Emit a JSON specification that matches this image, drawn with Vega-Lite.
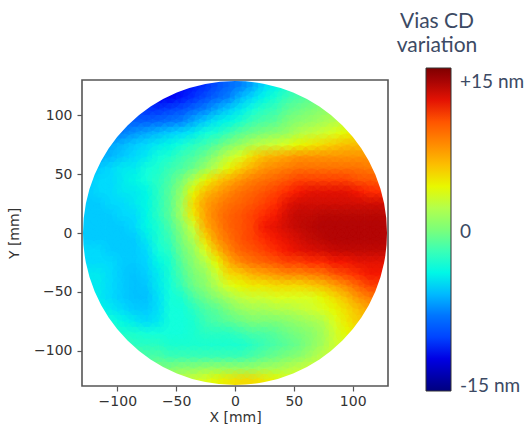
{"$schema":"https://vega.github.io/schema/vega-lite/v6.json","width":306,"height":306,"autosize":"none","padding":{"left":82,"top":80,"right":141,"bottom":41},"background":"white",
"title":{"text":["Vias CD","variation"],"anchor":"start","frame":"group","align":"center","dx":355,"dy":-8,"font":"Lato","fontSize":21,"fontWeight":"normal","color":"#3c4a64","lineHeight":24},
"config":{"view":{"stroke":null}},
"datasets":{"cells":[
{"x":-55,"y":125,"v":-12},{"x":-45,"y":125,"v":-11.5},{"x":-35,"y":125,"v":-11},{"x":-25,"y":125,"v":-10.5},{"x":-15,"y":125,"v":-9.5},{"x":-5,"y":125,"v":-8.5},{"x":5,"y":125,"v":-7.5},{"x":15,"y":125,"v":-6.5},{"x":25,"y":125,"v":-5},{"x":35,"y":125,"v":-4},{"x":45,"y":125,"v":-3},{"x":55,"y":125,"v":-2},
{"x":-65,"y":115,"v":-11.5},{"x":-55,"y":115,"v":-11.5},{"x":-45,"y":115,"v":-11},{"x":-35,"y":115,"v":-10.5},{"x":-25,"y":115,"v":-9.5},{"x":-15,"y":115,"v":-8.5},{"x":-5,"y":115,"v":-7.5},{"x":5,"y":115,"v":-6},{"x":15,"y":115,"v":-5},{"x":25,"y":115,"v":-4},{"x":35,"y":115,"v":-3},{"x":45,"y":115,"v":-2},{"x":55,"y":115,"v":-1.5},{"x":65,"y":115,"v":-1},
{"x":-85,"y":105,"v":-10},{"x":-75,"y":105,"v":-10.5},{"x":-65,"y":105,"v":-10.5},{"x":-55,"y":105,"v":-10},{"x":-45,"y":105,"v":-9.5},{"x":-35,"y":105,"v":-8.5},{"x":-25,"y":105,"v":-7.5},{"x":-15,"y":105,"v":-6.5},{"x":-5,"y":105,"v":-5.5},{"x":5,"y":105,"v":-4.5},{"x":15,"y":105,"v":-3.5},{"x":25,"y":105,"v":-2.5},{"x":35,"y":105,"v":-2},{"x":45,"y":105,"v":-1},{"x":55,"y":105,"v":-0.5},{"x":65,"y":105,"v":0},{"x":75,"y":105,"v":0.5},{"x":85,"y":105,"v":1},
{"x":-95,"y":95,"v":-9},{"x":-85,"y":95,"v":-9},{"x":-75,"y":95,"v":-9},{"x":-65,"y":95,"v":-8.5},{"x":-55,"y":95,"v":-8},{"x":-45,"y":95,"v":-7.5},{"x":-35,"y":95,"v":-6.5},{"x":-25,"y":95,"v":-5.5},{"x":-15,"y":95,"v":-4.5},{"x":-5,"y":95,"v":-4},{"x":5,"y":95,"v":-3},{"x":15,"y":95,"v":-2},{"x":25,"y":95,"v":-1.5},{"x":35,"y":95,"v":-1},{"x":45,"y":95,"v":0},{"x":55,"y":95,"v":0.5},{"x":65,"y":95,"v":1},{"x":75,"y":95,"v":1.5},{"x":85,"y":95,"v":2},{"x":95,"y":95,"v":2.5},
{"x":-105,"y":85,"v":-8},{"x":-95,"y":85,"v":-7.5},{"x":-85,"y":85,"v":-7},{"x":-75,"y":85,"v":-6.5},{"x":-65,"y":85,"v":-6},{"x":-55,"y":85,"v":-5.5},{"x":-45,"y":85,"v":-5},{"x":-35,"y":85,"v":-4.5},{"x":-25,"y":85,"v":-3.5},{"x":-15,"y":85,"v":-3},{"x":-5,"y":85,"v":-2},{"x":5,"y":85,"v":-1},{"x":15,"y":85,"v":-0.5},{"x":25,"y":85,"v":0},{"x":35,"y":85,"v":0.5},{"x":45,"y":85,"v":1},{"x":55,"y":85,"v":2},{"x":65,"y":85,"v":2.5},{"x":75,"y":85,"v":3},{"x":85,"y":85,"v":3.5},{"x":95,"y":85,"v":4},{"x":105,"y":85,"v":4.5},
{"x":-115,"y":75,"v":-7},{"x":-105,"y":75,"v":-6.5},{"x":-95,"y":75,"v":-6},{"x":-85,"y":75,"v":-5.5},{"x":-75,"y":75,"v":-5},{"x":-65,"y":75,"v":-4.5},{"x":-55,"y":75,"v":-4},{"x":-45,"y":75,"v":-3.5},{"x":-35,"y":75,"v":-2.5},{"x":-25,"y":75,"v":-2},{"x":-15,"y":75,"v":-1},{"x":-5,"y":75,"v":0},{"x":5,"y":75,"v":1},{"x":15,"y":75,"v":2},{"x":25,"y":75,"v":2.5},{"x":35,"y":75,"v":3},{"x":45,"y":75,"v":3.5},{"x":55,"y":75,"v":4},{"x":65,"y":75,"v":4.5},{"x":75,"y":75,"v":5},{"x":85,"y":75,"v":5.5},{"x":95,"y":75,"v":6},{"x":105,"y":75,"v":6},{"x":115,"y":75,"v":6},
{"x":-115,"y":65,"v":-6.5},{"x":-105,"y":65,"v":-6},{"x":-95,"y":65,"v":-5.5},{"x":-85,"y":65,"v":-5},{"x":-75,"y":65,"v":-4.5},{"x":-65,"y":65,"v":-3.5},{"x":-55,"y":65,"v":-3},{"x":-45,"y":65,"v":-2},{"x":-35,"y":65,"v":-1.5},{"x":-25,"y":65,"v":-0.5},{"x":-15,"y":65,"v":1},{"x":-5,"y":65,"v":2.5},{"x":5,"y":65,"v":3.5},{"x":15,"y":65,"v":5},{"x":25,"y":65,"v":6},{"x":35,"y":65,"v":6.5},{"x":45,"y":65,"v":7},{"x":55,"y":65,"v":7.5},{"x":65,"y":65,"v":7.5},{"x":75,"y":65,"v":7.5},{"x":85,"y":65,"v":7.5},{"x":95,"y":65,"v":7.5},{"x":105,"y":65,"v":7.5},{"x":115,"y":65,"v":7.5},
{"x":-125,"y":55,"v":-6},{"x":-115,"y":55,"v":-5.5},{"x":-105,"y":55,"v":-5},{"x":-95,"y":55,"v":-4.5},{"x":-85,"y":55,"v":-4.5},{"x":-75,"y":55,"v":-3.5},{"x":-65,"y":55,"v":-3},{"x":-55,"y":55,"v":-2},{"x":-45,"y":55,"v":-1.5},{"x":-35,"y":55,"v":-0.5},{"x":-25,"y":55,"v":1},{"x":-15,"y":55,"v":2.5},{"x":-5,"y":55,"v":4},{"x":5,"y":55,"v":5.5},{"x":15,"y":55,"v":6.5},{"x":25,"y":55,"v":7.5},{"x":35,"y":55,"v":8},{"x":45,"y":55,"v":8.5},{"x":55,"y":55,"v":9},{"x":65,"y":55,"v":9},{"x":75,"y":55,"v":9},{"x":85,"y":55,"v":9},{"x":95,"y":55,"v":9},{"x":105,"y":55,"v":9},{"x":115,"y":55,"v":8.5},{"x":125,"y":55,"v":8},
{"x":-125,"y":45,"v":-5.5},{"x":-115,"y":45,"v":-5},{"x":-105,"y":45,"v":-5},{"x":-95,"y":45,"v":-4.5},{"x":-85,"y":45,"v":-4},{"x":-75,"y":45,"v":-3.5},{"x":-65,"y":45,"v":-2.5},{"x":-55,"y":45,"v":-1.5},{"x":-45,"y":45,"v":0},{"x":-35,"y":45,"v":2},{"x":-25,"y":45,"v":4},{"x":-15,"y":45,"v":5.5},{"x":-5,"y":45,"v":6.5},{"x":5,"y":45,"v":7.5},{"x":15,"y":45,"v":8.5},{"x":25,"y":45,"v":9},{"x":35,"y":45,"v":9.5},{"x":45,"y":45,"v":10},{"x":55,"y":45,"v":10.5},{"x":65,"y":45,"v":10.5},{"x":75,"y":45,"v":10.5},{"x":85,"y":45,"v":10.5},{"x":95,"y":45,"v":10.5},{"x":105,"y":45,"v":10},{"x":115,"y":45,"v":10},{"x":125,"y":45,"v":9.5},
{"x":-125,"y":35,"v":-5.5},{"x":-115,"y":35,"v":-5},{"x":-105,"y":35,"v":-5},{"x":-95,"y":35,"v":-4.5},{"x":-85,"y":35,"v":-4.5},{"x":-75,"y":35,"v":-4},{"x":-65,"y":35,"v":-2.5},{"x":-55,"y":35,"v":-1},{"x":-45,"y":35,"v":1},{"x":-35,"y":35,"v":4},{"x":-25,"y":35,"v":6},{"x":-15,"y":35,"v":7},{"x":-5,"y":35,"v":8},{"x":5,"y":35,"v":9},{"x":15,"y":35,"v":9.5},{"x":25,"y":35,"v":10},{"x":35,"y":35,"v":10.5},{"x":45,"y":35,"v":11},{"x":55,"y":35,"v":11.5},{"x":65,"y":35,"v":12},{"x":75,"y":35,"v":12},{"x":85,"y":35,"v":12},{"x":95,"y":35,"v":12},{"x":105,"y":35,"v":11.5},{"x":115,"y":35,"v":11},{"x":125,"y":35,"v":11},
{"x":-125,"y":25,"v":-5.5},{"x":-115,"y":25,"v":-5.5},{"x":-105,"y":25,"v":-5},{"x":-95,"y":25,"v":-5},{"x":-85,"y":25,"v":-4.5},{"x":-75,"y":25,"v":-4},{"x":-65,"y":25,"v":-2.5},{"x":-55,"y":25,"v":-1},{"x":-45,"y":25,"v":1.5},{"x":-35,"y":25,"v":5},{"x":-25,"y":25,"v":7},{"x":-15,"y":25,"v":8},{"x":-5,"y":25,"v":9},{"x":5,"y":25,"v":9.5},{"x":15,"y":25,"v":10},{"x":25,"y":25,"v":10.5},{"x":35,"y":25,"v":11},{"x":45,"y":25,"v":12},{"x":55,"y":25,"v":12.5},{"x":65,"y":25,"v":12.5},{"x":75,"y":25,"v":12.5},{"x":85,"y":25,"v":12.5},{"x":95,"y":25,"v":12.5},{"x":105,"y":25,"v":12.5},{"x":115,"y":25,"v":12.5},{"x":125,"y":25,"v":12.5},
{"x":-125,"y":15,"v":-5.5},{"x":-115,"y":15,"v":-5.5},{"x":-105,"y":15,"v":-5.5},{"x":-95,"y":15,"v":-5},{"x":-85,"y":15,"v":-5},{"x":-75,"y":15,"v":-4},{"x":-65,"y":15,"v":-2.5},{"x":-55,"y":15,"v":-1},{"x":-45,"y":15,"v":1.5},{"x":-35,"y":15,"v":4.5},{"x":-25,"y":15,"v":7},{"x":-15,"y":15,"v":8.5},{"x":-5,"y":15,"v":9.5},{"x":5,"y":15,"v":10},{"x":15,"y":15,"v":10.5},{"x":25,"y":15,"v":11},{"x":35,"y":15,"v":11.5},{"x":45,"y":15,"v":12.5},{"x":55,"y":15,"v":13},{"x":65,"y":15,"v":13},{"x":75,"y":15,"v":13.2},{"x":85,"y":15,"v":13.2},{"x":95,"y":15,"v":13.2},{"x":105,"y":15,"v":13.2},{"x":115,"y":15,"v":13.2},{"x":125,"y":15,"v":13.2},
{"x":-125,"y":5,"v":-5.5},{"x":-115,"y":5,"v":-5.5},{"x":-105,"y":5,"v":-5.5},{"x":-95,"y":5,"v":-5.5},{"x":-85,"y":5,"v":-5},{"x":-75,"y":5,"v":-4},{"x":-65,"y":5,"v":-3},{"x":-55,"y":5,"v":-1.5},{"x":-45,"y":5,"v":0.5},{"x":-35,"y":5,"v":3},{"x":-25,"y":5,"v":6.5},{"x":-15,"y":5,"v":8},{"x":-5,"y":5,"v":9.5},{"x":5,"y":5,"v":10},{"x":15,"y":5,"v":10.5},{"x":25,"y":5,"v":11.5},{"x":35,"y":5,"v":12},{"x":45,"y":5,"v":12.5},{"x":55,"y":5,"v":13},{"x":65,"y":5,"v":13.2},{"x":75,"y":5,"v":13.4},{"x":85,"y":5,"v":13.4},{"x":95,"y":5,"v":13.4},{"x":105,"y":5,"v":13.4},{"x":115,"y":5,"v":13.4},{"x":125,"y":5,"v":13.4},
{"x":-125,"y":-5,"v":-5.5},{"x":-115,"y":-5,"v":-5.5},{"x":-105,"y":-5,"v":-5.5},{"x":-95,"y":-5,"v":-5.5},{"x":-85,"y":-5,"v":-5.5},{"x":-75,"y":-5,"v":-4.5},{"x":-65,"y":-5,"v":-3},{"x":-55,"y":-5,"v":-2},{"x":-45,"y":-5,"v":0},{"x":-35,"y":-5,"v":2},{"x":-25,"y":-5,"v":5},{"x":-15,"y":-5,"v":7.5},{"x":-5,"y":-5,"v":9},{"x":5,"y":-5,"v":10},{"x":15,"y":-5,"v":10.5},{"x":25,"y":-5,"v":11},{"x":35,"y":-5,"v":11.5},{"x":45,"y":-5,"v":12},{"x":55,"y":-5,"v":12.5},{"x":65,"y":-5,"v":13},{"x":75,"y":-5,"v":13.2},{"x":85,"y":-5,"v":13.4},{"x":95,"y":-5,"v":13.4},{"x":105,"y":-5,"v":13.4},{"x":115,"y":-5,"v":13.4},{"x":125,"y":-5,"v":13.4},
{"x":-125,"y":-15,"v":-5},{"x":-115,"y":-15,"v":-5},{"x":-105,"y":-15,"v":-5.5},{"x":-95,"y":-15,"v":-5.5},{"x":-85,"y":-15,"v":-5.5},{"x":-75,"y":-15,"v":-5},{"x":-65,"y":-15,"v":-3.5},{"x":-55,"y":-15,"v":-2.5},{"x":-45,"y":-15,"v":-0.5},{"x":-35,"y":-15,"v":1},{"x":-25,"y":-15,"v":3.5},{"x":-15,"y":-15,"v":6},{"x":-5,"y":-15,"v":8},{"x":5,"y":-15,"v":9.5},{"x":15,"y":-15,"v":10},{"x":25,"y":-15,"v":10.5},{"x":35,"y":-15,"v":11},{"x":45,"y":-15,"v":11.5},{"x":55,"y":-15,"v":12},{"x":65,"y":-15,"v":12.3},{"x":75,"y":-15,"v":12.5},{"x":85,"y":-15,"v":12.8},{"x":95,"y":-15,"v":13},{"x":105,"y":-15,"v":13},{"x":115,"y":-15,"v":13},{"x":125,"y":-15,"v":13},
{"x":-125,"y":-25,"v":-5},{"x":-115,"y":-25,"v":-5},{"x":-105,"y":-25,"v":-5},{"x":-95,"y":-25,"v":-5.5},{"x":-85,"y":-25,"v":-5.5},{"x":-75,"y":-25,"v":-5.2},{"x":-65,"y":-25,"v":-4},{"x":-55,"y":-25,"v":-3},{"x":-45,"y":-25,"v":-1},{"x":-35,"y":-25,"v":0.5},{"x":-25,"y":-25,"v":2},{"x":-15,"y":-25,"v":4},{"x":-5,"y":-25,"v":6.5},{"x":5,"y":-25,"v":8},{"x":15,"y":-25,"v":9},{"x":25,"y":-25,"v":9.5},{"x":35,"y":-25,"v":10},{"x":45,"y":-25,"v":10.5},{"x":55,"y":-25,"v":10.5},{"x":65,"y":-25,"v":11},{"x":75,"y":-25,"v":11},{"x":85,"y":-25,"v":11.5},{"x":95,"y":-25,"v":11.5},{"x":105,"y":-25,"v":12},{"x":115,"y":-25,"v":12},{"x":125,"y":-25,"v":12},
{"x":-125,"y":-35,"v":-4.5},{"x":-115,"y":-35,"v":-4.5},{"x":-105,"y":-35,"v":-5},{"x":-95,"y":-35,"v":-5.5},{"x":-85,"y":-35,"v":-5.7},{"x":-75,"y":-35,"v":-5.3},{"x":-65,"y":-35,"v":-4.5},{"x":-55,"y":-35,"v":-3},{"x":-45,"y":-35,"v":-1.5},{"x":-35,"y":-35,"v":0},{"x":-25,"y":-35,"v":1},{"x":-15,"y":-35,"v":3},{"x":-5,"y":-35,"v":5},{"x":5,"y":-35,"v":5.5},{"x":15,"y":-35,"v":6.5},{"x":25,"y":-35,"v":7},{"x":35,"y":-35,"v":7.5},{"x":45,"y":-35,"v":8},{"x":55,"y":-35,"v":8},{"x":65,"y":-35,"v":8.5},{"x":75,"y":-35,"v":9},{"x":85,"y":-35,"v":10},{"x":95,"y":-35,"v":10.5},{"x":105,"y":-35,"v":11},{"x":115,"y":-35,"v":11.5},{"x":125,"y":-35,"v":11.5},
{"x":-125,"y":-45,"v":-4.5},{"x":-115,"y":-45,"v":-4.5},{"x":-105,"y":-45,"v":-5},{"x":-95,"y":-45,"v":-5.5},{"x":-85,"y":-45,"v":-5.8},{"x":-75,"y":-45,"v":-5.6},{"x":-65,"y":-45,"v":-4.5},{"x":-55,"y":-45,"v":-3.5},{"x":-45,"y":-45,"v":-2},{"x":-35,"y":-45,"v":-0.5},{"x":-25,"y":-45,"v":0.5},{"x":-15,"y":-45,"v":2},{"x":-5,"y":-45,"v":3.5},{"x":5,"y":-45,"v":4},{"x":15,"y":-45,"v":4.5},{"x":25,"y":-45,"v":4.5},{"x":35,"y":-45,"v":5},{"x":45,"y":-45,"v":5},{"x":55,"y":-45,"v":5},{"x":65,"y":-45,"v":5.5},{"x":75,"y":-45,"v":6},{"x":85,"y":-45,"v":7},{"x":95,"y":-45,"v":8},{"x":105,"y":-45,"v":9.5},{"x":115,"y":-45,"v":10.5},{"x":125,"y":-45,"v":10.5},
{"x":-125,"y":-55,"v":-4},{"x":-115,"y":-55,"v":-4.5},{"x":-105,"y":-55,"v":-5},{"x":-95,"y":-55,"v":-5.5},{"x":-85,"y":-55,"v":-5.8},{"x":-75,"y":-55,"v":-5.8},{"x":-65,"y":-55,"v":-4.8},{"x":-55,"y":-55,"v":-3.5},{"x":-45,"y":-55,"v":-3},{"x":-35,"y":-55,"v":-1.5},{"x":-25,"y":-55,"v":-0.5},{"x":-15,"y":-55,"v":0.5},{"x":-5,"y":-55,"v":1.5},{"x":5,"y":-55,"v":2.5},{"x":15,"y":-55,"v":3},{"x":25,"y":-55,"v":3},{"x":35,"y":-55,"v":3.5},{"x":45,"y":-55,"v":3.5},{"x":55,"y":-55,"v":3.5},{"x":65,"y":-55,"v":3.5},{"x":75,"y":-55,"v":4},{"x":85,"y":-55,"v":5},{"x":95,"y":-55,"v":6},{"x":105,"y":-55,"v":7.5},{"x":115,"y":-55,"v":8.5},{"x":125,"y":-55,"v":9},
{"x":-115,"y":-65,"v":-4},{"x":-105,"y":-65,"v":-4.5},{"x":-95,"y":-65,"v":-5},{"x":-85,"y":-65,"v":-5.5},{"x":-75,"y":-65,"v":-5.5},{"x":-65,"y":-65,"v":-4.8},{"x":-55,"y":-65,"v":-3.5},{"x":-45,"y":-65,"v":-3.5},{"x":-35,"y":-65,"v":-2.5},{"x":-25,"y":-65,"v":-1.5},{"x":-15,"y":-65,"v":-1},{"x":-5,"y":-65,"v":0},{"x":5,"y":-65,"v":1},{"x":15,"y":-65,"v":1.5},{"x":25,"y":-65,"v":1.5},{"x":35,"y":-65,"v":2},{"x":45,"y":-65,"v":2},{"x":55,"y":-65,"v":2.5},{"x":65,"y":-65,"v":3},{"x":75,"y":-65,"v":3.5},{"x":85,"y":-65,"v":4},{"x":95,"y":-65,"v":5},{"x":105,"y":-65,"v":6},{"x":115,"y":-65,"v":7},
{"x":-115,"y":-75,"v":-3},{"x":-105,"y":-75,"v":-3.5},{"x":-95,"y":-75,"v":-4},{"x":-85,"y":-75,"v":-4.5},{"x":-75,"y":-75,"v":-5},{"x":-65,"y":-75,"v":-4.5},{"x":-55,"y":-75,"v":-3.5},{"x":-45,"y":-75,"v":-3.5},{"x":-35,"y":-75,"v":-3},{"x":-25,"y":-75,"v":-2},{"x":-15,"y":-75,"v":-1.5},{"x":-5,"y":-75,"v":-1},{"x":5,"y":-75,"v":-0.5},{"x":15,"y":-75,"v":0},{"x":25,"y":-75,"v":0},{"x":35,"y":-75,"v":0},{"x":45,"y":-75,"v":0.5},{"x":55,"y":-75,"v":1},{"x":65,"y":-75,"v":1.5},{"x":75,"y":-75,"v":2},{"x":85,"y":-75,"v":3.5},{"x":95,"y":-75,"v":4.5},{"x":105,"y":-75,"v":5.5},{"x":115,"y":-75,"v":6},
{"x":-105,"y":-85,"v":-2.5},{"x":-95,"y":-85,"v":-3},{"x":-85,"y":-85,"v":-3},{"x":-75,"y":-85,"v":-3.5},{"x":-65,"y":-85,"v":-3.5},{"x":-55,"y":-85,"v":-3.5},{"x":-45,"y":-85,"v":-3.5},{"x":-35,"y":-85,"v":-3},{"x":-25,"y":-85,"v":-2.5},{"x":-15,"y":-85,"v":-2.5},{"x":-5,"y":-85,"v":-2.5},{"x":5,"y":-85,"v":-2},{"x":15,"y":-85,"v":-1.5},{"x":25,"y":-85,"v":-1.5},{"x":35,"y":-85,"v":-1},{"x":45,"y":-85,"v":-0.5},{"x":55,"y":-85,"v":0},{"x":65,"y":-85,"v":0.5},{"x":75,"y":-85,"v":1.5},{"x":85,"y":-85,"v":3},{"x":95,"y":-85,"v":4},{"x":105,"y":-85,"v":4.5},
{"x":-95,"y":-95,"v":-2},{"x":-85,"y":-95,"v":-2.5},{"x":-75,"y":-95,"v":-2.5},{"x":-65,"y":-95,"v":-2.5},{"x":-55,"y":-95,"v":-3},{"x":-45,"y":-95,"v":-3},{"x":-35,"y":-95,"v":-3},{"x":-25,"y":-95,"v":-3},{"x":-15,"y":-95,"v":-3},{"x":-5,"y":-95,"v":-3},{"x":5,"y":-95,"v":-3},{"x":15,"y":-95,"v":-2.5},{"x":25,"y":-95,"v":-2},{"x":35,"y":-95,"v":-1.5},{"x":45,"y":-95,"v":-1},{"x":55,"y":-95,"v":-0.5},{"x":65,"y":-95,"v":0.5},{"x":75,"y":-95,"v":1.5},{"x":85,"y":-95,"v":3},{"x":95,"y":-95,"v":3.5},
{"x":-85,"y":-105,"v":-1},{"x":-75,"y":-105,"v":-1.5},{"x":-65,"y":-105,"v":-1.5},{"x":-55,"y":-105,"v":-2},{"x":-45,"y":-105,"v":-2},{"x":-35,"y":-105,"v":-2},{"x":-25,"y":-105,"v":-2},{"x":-15,"y":-105,"v":-2},{"x":-5,"y":-105,"v":-2},{"x":5,"y":-105,"v":-2},{"x":15,"y":-105,"v":-1.5},{"x":25,"y":-105,"v":-1},{"x":35,"y":-105,"v":-0.5},{"x":45,"y":-105,"v":0},{"x":55,"y":-105,"v":0.5},{"x":65,"y":-105,"v":1.5},{"x":75,"y":-105,"v":2.5},{"x":85,"y":-105,"v":3},
{"x":-65,"y":-115,"v":0},{"x":-55,"y":-115,"v":0},{"x":-45,"y":-115,"v":0.5},{"x":-35,"y":-115,"v":0.5},{"x":-25,"y":-115,"v":1},{"x":-15,"y":-115,"v":1},{"x":-5,"y":-115,"v":1},{"x":5,"y":-115,"v":1},{"x":15,"y":-115,"v":1},{"x":25,"y":-115,"v":1.5},{"x":35,"y":-115,"v":1.5},{"x":45,"y":-115,"v":2},{"x":55,"y":-115,"v":2.5},{"x":65,"y":-115,"v":3},
{"x":-55,"y":-125,"v":2},{"x":-45,"y":-125,"v":2.5},{"x":-35,"y":-125,"v":3},{"x":-25,"y":-125,"v":3.5},{"x":-15,"y":-125,"v":4},{"x":-5,"y":-125,"v":4.5},{"x":5,"y":-125,"v":5},{"x":15,"y":-125,"v":5},{"x":25,"y":-125,"v":4.5},{"x":35,"y":-125,"v":4},{"x":45,"y":-125,"v":3.5},{"x":55,"y":-125,"v":3.5}
]},
"layer":[
{"data":{"name":"cells"},
"mark":{"type":"rect","width":12.4,"height":12.4,"clip":true},
"encoding":{
"x":{"field":"x","type":"quantitative","scale":{"domain":[-130,130],"nice":false,"zero":false},"axis":{"values":[-100,-50,0,50,100],"title":"X [mm]","grid":false,"domain":false,"tickColor":"#555","tickSize":5,"tickWidth":1.2,"labelColor":"#333","titleColor":"#333","labelFont":"DejaVu Sans","titleFont":"DejaVu Sans","labelFontSize":14,"titleFontSize":14,"titleFontWeight":"normal","labelPadding":3,"titlePadding":2,"labelExpr":"replace(datum.label,'-','−')","labelFlush":false}},
"y":{"field":"y","type":"quantitative","scale":{"domain":[-130,130],"nice":false,"zero":false},"axis":{"values":[-100,-50,0,50,100],"title":"Y [mm]","grid":false,"domain":false,"tickColor":"#555","tickSize":5,"tickWidth":1.2,"labelColor":"#333","titleColor":"#333","labelFont":"DejaVu Sans","titleFont":"DejaVu Sans","labelFontSize":14,"titleFontSize":14,"titleFontWeight":"normal","labelPadding":5,"titlePadding":12,"labelExpr":"replace(datum.label,'-','−')"}},
"color":{"field":"v","type":"quantitative","scale":{"domain":[-15,15],"range":["#00007f","#0000ff","#0080ff","#15ffe1","#7cff79","#e4ff13","#ff9400","#ff1a00","#7f0000"],"clamp":true},
"legend":{"orient":"none","legendX":344,"legendY":-12,"title":null,"type":"gradient","direction":"vertical","gradientLength":323,"gradientThickness":25,"gradientStrokeColor":"#333","gradientStrokeWidth":1,"values":[13.7,-0.2,-14.5],"labelExpr":"datum.value>5?'+15 nm':(datum.value<-5?'-15 nm':'\u00a0\u00a0\u00a00')","labelFont":"Lato","labelFontSize":19,"labelColor":"#3c4a64","labelOffset":9,"labelOverlap":false}}
}},
{"data":{"name":"cells"},
"mark":{"type":"circle","size":500,"opacity":0.2,"clip":true},
"encoding":{"x":{"field":"x","type":"quantitative"},"y":{"field":"y","type":"quantitative"},"color":{"field":"v","type":"quantitative","legend":null},"order":{"field":"y","sort":"ascending"}}},
{"data":{"name":"cells"},
"mark":{"type":"circle","size":500,"opacity":0.2,"clip":true},
"encoding":{"x":{"field":"x","type":"quantitative"},"y":{"field":"y","type":"quantitative"},"color":{"field":"v","type":"quantitative","legend":null},"order":{"field":"y","sort":"descending"}}},
{"data":{"values":[{"x":0,"y":0}]},
"mark":{"type":"arc","innerRadius":152,"outerRadius":240,"theta":0,"theta2":6.2832,"fill":"white","clip":true},
"encoding":{"x":{"field":"x","type":"quantitative"},"y":{"field":"y","type":"quantitative"}}},
{"data":{"values":[{"x":-130,"x2":130,"y":-130,"y2":130}]},
"mark":{"type":"rect","fill":null,"stroke":"#555","strokeWidth":1.6,"clip":false},
"encoding":{"x":{"field":"x","type":"quantitative"},"x2":{"field":"x2"},"y":{"field":"y","type":"quantitative"},"y2":{"field":"y2"}}}
]}
